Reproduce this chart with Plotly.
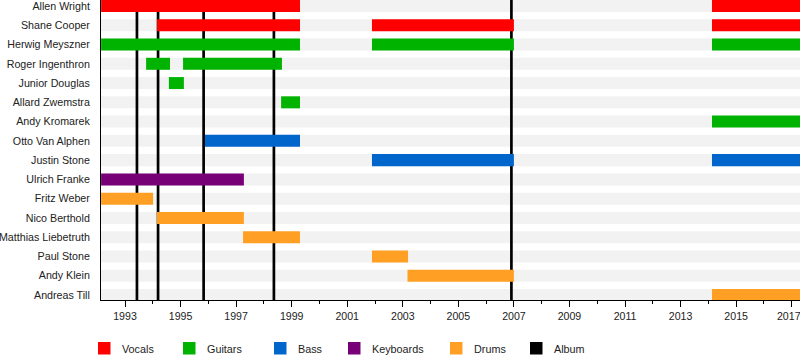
import plotly.graph_objects as go

# ---------------- data ----------------
members = ["Allen Wright", "Shane Cooper", "Herwig Meyszner", "Roger Ingenthron",
           "Junior Douglas", "Allard Zwemstra", "Andy Kromarek", "Otto Van Alphen",
           "Justin Stone", "Ulrich Franke", "Fritz Weber", "Nico Berthold",
           "Matthias Liebetruth", "Paul Stone", "Andy Klein", "Andreas Till"]

roles = ["Vocals", "Guitars", "Bass", "Keyboards", "Drums"]
role_colors = ["#ff0000", "#00b300", "#0066cc", "#770077", "#ffa024"]

vocals_member = ["Allen Wright", "Allen Wright", "Shane Cooper", "Shane Cooper", "Shane Cooper"]
vocals_start = [1992.14, 2014.13, 1994.15, 2001.89, 2014.13]
vocals_end = [1999.30, 2017.30, 1999.30, 2007.00, 2017.30]

guitars_member = ["Herwig Meyszner", "Herwig Meyszner", "Herwig Meyszner", "Roger Ingenthron",
                  "Roger Ingenthron", "Junior Douglas", "Allard Zwemstra", "Andy Kromarek"]
guitars_start = [1992.14, 2001.89, 2014.13, 1993.76, 1995.09, 1994.58, 1998.62, 2014.13]
guitars_end = [1999.30, 2007.00, 2017.30, 1994.62, 1998.65, 1995.12, 1999.30, 2017.30]

bass_member = ["Otto Van Alphen", "Justin Stone", "Justin Stone"]
bass_start = [1995.88, 2001.89, 2014.13]
bass_end = [1999.30, 2007.00, 2017.30]

keyboards_member = ["Ulrich Franke"]
keyboards_start = [1992.14]
keyboards_end = [1997.28]

drums_member = ["Fritz Weber", "Nico Berthold", "Matthias Liebetruth", "Paul Stone",
                "Andy Klein", "Andreas Till"]
drums_start = [1992.14, 1994.15, 1997.25, 2001.89, 2003.17, 2014.13]
drums_end = [1994.01, 1997.28, 1999.30, 2003.19, 2007.00, 2017.30]

album_years = [1993.43, 1994.19, 1995.83, 1998.36, 2006.91]

major_ticks = list(range(1993, 2018, 2))
x_start, x_end = 1992.136, 2017.299

# ---------------- figure ----------------
FONT = "Liberation Sans, Arial, sans-serif"
row_of = {m: i for i, m in enumerate(members)}
BAR_W = 0.623

fig = go.Figure()

role_data = [
    (vocals_member, vocals_start, vocals_end),
    (guitars_member, guitars_start, guitars_end),
    (bass_member, bass_start, bass_end),
    (keyboards_member, keyboards_start, keyboards_end),
    (drums_member, drums_start, drums_end),
]
for role, color, (mem, st, en) in zip(roles, role_colors, role_data):
    fig.add_trace(go.Bar(
        orientation="h",
        y=[row_of[m] for m in mem],
        base=st,
        x=[e - s for s, e in zip(st, en)],
        width=BAR_W,
        marker=dict(color=color, line=dict(width=0)),
        name=role,
        showlegend=False,
        hoverinfo="skip",
    ))

shapes = []
# background stripes
for i in range(len(members)):
    shapes.append(dict(type="rect", xref="paper", yref="y", x0=0, x1=1,
                       y0=i - BAR_W / 2, y1=i + BAR_W / 2,
                       fillcolor="#f2f2f2", line=dict(width=0), layer="below"))
# album lines
for a in album_years:
    shapes.append(dict(type="line", xref="x", yref="paper", x0=a, x1=a, y0=0, y1=1,
                       line=dict(color="black", width=2.7), layer="below"))

# legend (manual)
legend_items = roles + ["Album"]
legend_colors = role_colors + ["#000000"]
legend_px = [98, 183, 274, 348, 450, 530]
text_px = [120, 205, 296, 370, 472, 552]
L, PW, T, PH = 101, 699, 0, 300
annotations = []
for name, col, sx, tx in zip(legend_items, legend_colors, legend_px, text_px):
    shapes.append(dict(type="rect", xref="paper", yref="paper",
                       x0=(sx - L) / PW, x1=(sx + 12.5 - L) / PW,
                       y0=(PH - 342) / PH, y1=(PH - 354.5) / PH,
                       fillcolor=col, line=dict(width=0)))
    annotations.append(dict(xref="paper", yref="paper", x=(tx - L) / PW, y=(PH - 349) / PH,
                            text=name, showarrow=False, xanchor="left", yanchor="middle",
                            font=dict(family=FONT, size=10.8, color="#222")))

# last label padded so it stays inside the picture (as in the reference)
tick_text = [str(y) for y in major_ticks]
tick_text[-1] = tick_text[-1] + "\u00a0\u00a0"

fig.update_layout(
    width=800, height=360,
    margin=dict(l=101, r=0, t=0, b=60, autoexpand=False),
    paper_bgcolor="white", plot_bgcolor="white",
    barmode="overlay",
    shapes=shapes,
    annotations=annotations,
    font=dict(family=FONT, size=11, color="#222"),
    xaxis=dict(range=[x_start, x_end], showgrid=False, zeroline=False, automargin=False,
               showline=True, linecolor="black", linewidth=1,
               tickvals=major_ticks, ticktext=tick_text,
               ticks="outside", ticklen=6, tickcolor="black", tickwidth=1,
               ticklabeloverflow="allow",
               minor=dict(dtick=1, tick0=1992, ticks="outside", ticklen=3,
                          tickcolor="black", tickwidth=1, showgrid=False),
               tickfont=dict(family=FONT, size=10.6, color="#222"),
               fixedrange=True),
    yaxis=dict(range=[15.26, -0.311], showgrid=False, zeroline=False, automargin=False,
               showline=True, linecolor="black", linewidth=1,
               tickvals=list(range(len(members))), ticktext=members,
               ticks="", ticklabelstandoff=8, ticklabeloverflow="allow",
               tickfont=dict(family=FONT, size=10.7, color="#222"),
               fixedrange=True),
)

fig.write_html("out.html", config={"displayModeBar": False},
               post_script="document.body.style.margin='0';document.body.style.padding='0';")
